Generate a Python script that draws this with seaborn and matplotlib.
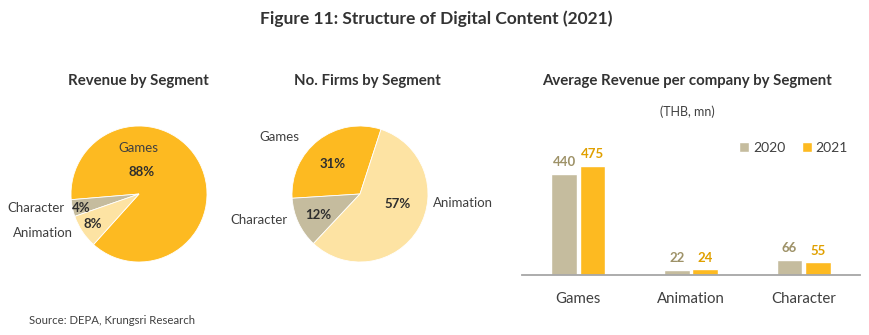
import matplotlib
matplotlib.use("Agg")
import matplotlib.pyplot as plt
import seaborn as sns
import pandas as pd

sns.set_theme(style="white")
plt.rcParams["font.family"] = ["Lato", "DejaVu Sans"]

# Revenue share by segment (%)
rev_segments = ["Games", "Character", "Animation"]
rev_share = [88, 4, 8]

# Number of firms share by segment (%)
firm_segments = ["Games", "Character", "Animation"]
firm_share = [31, 12, 57]

# Average revenue per company (THB mn)
bar_categories = ["Games", "Animation", "Character"]
years = ["2020", "2021"]
avg_rev_2020 = [440, 22, 66]
avg_rev_2021 = [475, 24, 55]

GAMES_C = "#fdba21"
ANIM_C = "#fde3a3"
CHAR_C = "#c5bc9e"
TXT = "#404040"
PCT = "#2e2e2e"
LBL_2020 = "#9e9268"
LBL_2021 = "#e0a000"

W, H = 870, 335
fig = plt.figure(figsize=(W / 100, H / 100), dpi=100)


def px_axes(left, top, right, bottom):
    return fig.add_axes([left / W, 1 - bottom / H, (right - left) / W, (bottom - top) / H])


fig.text(436 / W, 1 - 19 / H, "Figure 11: Structure of Digital Content (2021)",
         ha="center", va="center", fontsize=12.5, fontweight="bold", color="#333333")
fig.text(29 / W, 1 - 320 / H, "Source: DEPA, Krungsri Research",
         ha="left", va="center", fontsize=8.2, color=TXT)

seg_colors = {"Games": GAMES_C, "Character": CHAR_C, "Animation": ANIM_C}


def draw_pie(ax, segments, share, start, labels):
    ax.pie(share, colors=[seg_colors[s] for s in segments], startangle=start,
           counterclock=True, radius=1.0,
           wedgeprops=dict(linewidth=0.6, edgecolor="white"))
    ax.set_xlim(-1, 1)
    ax.set_ylim(-1, 1)
    for txt, (x, y), bold in labels:
        ax.text(x, y, txt, ha="center", va="center", clip_on=False,
                fontsize=9.5,
                fontweight="bold" if bold else "normal",
                color=PCT if bold else TXT)


# Pie 1: revenue by segment
ax1 = px_axes(71, 126, 207, 262)
draw_pie(ax1, rev_segments, rev_share, 228, [
    ("Games", (-0.01, 0.68), False),
    (f"{rev_share[0]}%", (0.04, 0.32), True),
    ("Character", (-1.51, -0.21), False),
    (f"{rev_share[1]}%", (-0.85, -0.21), True),
    (f"{rev_share[2]}%", (-0.68, -0.44), True),
    ("Animation", (-1.41, -0.57), False),
])
fig.text(138 / W, 1 - 81 / H, "Revenue by Segment", ha="center", va="center",
         fontsize=10.8, fontweight="bold", color="#333333")

# Pie 2: number of firms by segment
ax2 = px_axes(292, 126, 428, 262)
draw_pie(ax2, firm_segments, firm_share, 72, [
    ("Games", (-1.19, 0.84), False),
    (f"{firm_share[0]}%", (-0.40, 0.44), True),
    ("Character", (-1.49, -0.38), False),
    (f"{firm_share[1]}%", (-0.62, -0.31), True),
    (f"{firm_share[2]}%", (0.56, -0.15), True),
    ("Animation", (1.52, -0.13), False),
])
fig.text(367 / W, 1 - 81 / H, "No. Firms by Segment", ha="center", va="center",
         fontsize=10.8, fontweight="bold", color="#333333")

# Grouped bars: average revenue per company
fig.text(687 / W, 1 - 81 / H, "Average Revenue per company by Segment", ha="center",
         va="center", fontsize=10.8, fontweight="bold", color="#333333")
fig.text(687 / W, 1 - 112 / H, "(THB, mn)", ha="center", va="center",
         fontsize=9, color=TXT)

df = pd.DataFrame({
    "Segment": bar_categories * 2,
    "Year": [years[0]] * 3 + [years[1]] * 3,
    "Value": avg_rev_2020 + avg_rev_2021,
})
ax3 = px_axes(522, 135, 860, 275)
sns.barplot(data=df, x="Segment", y="Value", hue="Year", order=bar_categories,
            hue_order=years, palette=[CHAR_C, GAMES_C], width=0.507, gap=0.1,
            saturation=1, ax=ax3, legend=True)
ax3.set_xlim(-0.5, 2.5)
ax3.set_ylim(0, 610)
for c, col in zip(ax3.containers, [LBL_2020, LBL_2021]):
    ax3.bar_label(c, padding=4, fontsize=9.5, fontweight="bold", color=col)
for s in ["top", "right", "left"]:
    ax3.spines[s].set_visible(False)
ax3.spines["bottom"].set_color("#a6a6a6")
ax3.spines["bottom"].set_linewidth(1.3)
ax3.set_yticks([])
ax3.set_xlabel("")
ax3.set_ylabel("")
ax3.tick_params(axis="x", length=0, pad=12, labelsize=10.8, labelcolor=TXT)
leg = ax3.legend(loc="center left", bbox_to_anchor=((739 - 522) / 338, (275 - 148) / 140),
                 ncol=2, frameon=False, handlelength=0.7, handleheight=0.7,
                 handletextpad=0.3, columnspacing=1.2, fontsize=10, borderpad=0,
                 borderaxespad=0)
for t in leg.get_texts():
    t.set_color(TXT)

fig.savefig("out.png", dpi=100, facecolor="white")
